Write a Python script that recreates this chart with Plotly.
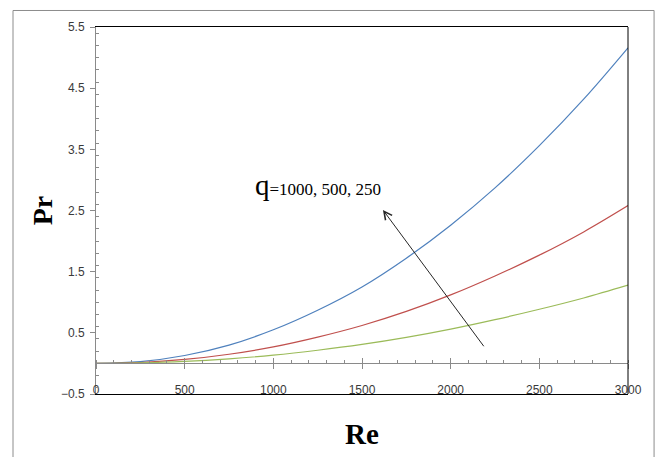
import plotly.graph_objects as go

# Reynolds number samples and Prandtl-number curves for q = 1000, 500, 250
re_vals = [0, 250, 500, 750, 1000, 1250, 1500, 1750, 2000, 2250, 2500, 2750, 3000]
pr_q1000 = [0, 0.03, 0.13, 0.30, 0.55, 0.87, 1.25, 1.72, 2.26, 2.87, 3.56, 4.32, 5.16]
pr_q500 = [0, 0.015, 0.065, 0.15, 0.27, 0.43, 0.62, 0.85, 1.12, 1.43, 1.77, 2.15, 2.58]
pr_q250 = [0, 0.008, 0.032, 0.075, 0.135, 0.215, 0.31, 0.425, 0.56, 0.715, 0.885, 1.07, 1.28]

series = [
    ("q=1000", pr_q1000, "#4F81BD"),
    ("q=500", pr_q500, "#C0504D"),
    ("q=250", pr_q250, "#9BBB59"),
]

x_range = [0, 3000]
y_range = [-0.5, 5.5]
zero_pos = (0 - y_range[0]) / (y_range[1] - y_range[0])

fig = go.Figure()
for name, vals, color in series:
    fig.add_trace(go.Scatter(x=re_vals, y=vals, mode="lines", name=name,
                             line=dict(color=color, width=1.2, shape="spline"),
                             showlegend=False))

# helper traces so the overlaid zero-crossing axes are rendered
for ax in ("x2", "x3"):
    fig.add_trace(go.Scatter(x=re_vals, y=pr_q250, xaxis=ax, mode="lines",
                             line=dict(color="rgba(0,0,0,0)", width=0),
                             hoverinfo="skip", showlegend=False))

tick_font = dict(family="Liberation Sans, Arial, sans-serif", size=12, color="#3a3a3a")
axis_grey = "#8a8a8a"

fig.update_layout(
    width=660, height=457,
    margin=dict(l=96, r=32, t=27, b=63),
    paper_bgcolor="white", plot_bgcolor="white",
    xaxis=dict(
        range=x_range, tick0=0, dtick=500, showgrid=False, zeroline=False,
        showline=True, linecolor="black", linewidth=1, mirror=True,
        ticks="", ticklabelstandoff=-15, tickfont=tick_font,
        title=dict(text="<b>Re</b>", font=dict(family="Liberation Serif, Times New Roman, serif",
                                              size=29, color="black"), standoff=27),
    ),
    xaxis2=dict(
        range=x_range, overlaying="x", anchor="free", position=zero_pos,
        tick0=0, dtick=500, showgrid=False, zeroline=False, showticklabels=False,
        showline=True, linecolor=axis_grey, linewidth=1,
        ticks="outside", ticklen=5, tickcolor=axis_grey,
        minor=dict(ticks="inside", ticklen=3, dtick=100, tickcolor=axis_grey, showgrid=False),
    ),
    xaxis3=dict(
        range=x_range, overlaying="x", anchor="free", position=zero_pos,
        tick0=0, dtick=500, showgrid=False, zeroline=False, showticklabels=False,
        showline=False, ticks="inside", ticklen=5, tickcolor=axis_grey,
    ),
    yaxis=dict(
        range=y_range, tick0=-0.5, dtick=1, showgrid=False, zeroline=False,
        showline=True, linecolor=axis_grey, linewidth=1,
        ticks="outside", ticklen=5, tickcolor=axis_grey, tickfont=tick_font,
        ticklabelstandoff=3,
        minor=dict(ticks="inside", ticklen=3, dtick=0.2, tickcolor=axis_grey, showgrid=False),
        tickformat=".1f",
        title=dict(text="<b>Pr</b>", font=dict(family="Liberation Serif, Times New Roman, serif",
                                              size=28, color="black"), standoff=0),
    ),
    shapes=[
        # right edge of the plot box
        dict(type="line", xref="paper", yref="paper", x0=1, x1=1, y0=0, y1=1,
             line=dict(color="black", width=1)),
        # chart frame
        dict(type="rect", xref="paper", yref="paper", x0=-0.156, x1=1.049, y0=-0.2, y1=1.045,
             line=dict(color="#8c8c8c", width=1), fillcolor="rgba(0,0,0,0)", layer="below"),
    ],
    annotations=[
        dict(x=1618, y=2.51, ax=2193, ay=0.256, xref="x", yref="y", axref="x", ayref="y",
             text="", showarrow=True, arrowhead=5, arrowsize=1.6, arrowwidth=1,
             arrowcolor="#262626"),
        dict(x=885, y=2.91, xref="x", yref="y", xanchor="left", yanchor="middle",
             showarrow=False,
             text="<span style='font-size:29px'>q</span>=1000, 500, 250",
             font=dict(family="Liberation Serif, Times New Roman, serif", size=17, color="black")),
    ],
)

fig.write_html("out.html")
